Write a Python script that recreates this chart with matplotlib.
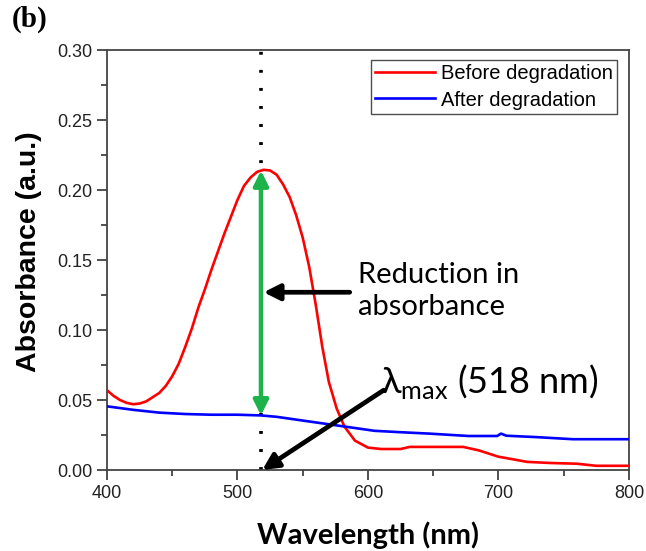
import numpy as np
import matplotlib
matplotlib.use("Agg")
from matplotlib import pyplot as plt

plt.rcParams['mathtext.fontset'] = 'custom'
plt.rcParams['mathtext.rm'] = 'Lato'

# spectra (nm, a.u.)
wl_before = [400, 405, 410, 415, 420, 425, 430, 435, 440, 445, 450, 455, 460, 465, 470, 475,
             480, 485, 490, 495, 500, 505, 510, 515, 520, 525, 530, 535, 540, 545, 550, 555,
             560, 565, 570, 576, 582, 590, 600, 610, 625, 632, 673, 685, 700, 712, 722, 740,
             760, 775, 800]
abs_before = [0.057, 0.053, 0.050, 0.048, 0.047, 0.0475, 0.049, 0.052, 0.055, 0.060, 0.067,
              0.076, 0.088, 0.101, 0.116, 0.129, 0.143, 0.156, 0.169, 0.181, 0.193, 0.203,
              0.209, 0.213, 0.2145, 0.214, 0.211, 0.204, 0.195, 0.182, 0.166, 0.145, 0.118,
              0.088, 0.063, 0.044, 0.031, 0.021, 0.016, 0.015, 0.015, 0.0165, 0.0165, 0.014,
              0.0095, 0.0075, 0.0058, 0.005, 0.0045, 0.003, 0.003]

wl_after = [400, 420, 440, 460, 480, 500, 518, 530, 545, 560, 575, 590, 605, 625, 647,
            677, 699, 702, 706, 729, 757, 800]
abs_after = [0.0455, 0.043, 0.041, 0.040, 0.0395, 0.0395, 0.039, 0.038, 0.036, 0.034,
             0.032, 0.030, 0.028, 0.027, 0.026, 0.0243, 0.0243, 0.026, 0.0245, 0.0235,
             0.022, 0.022]

lam_max = 518
peak_abs = 0.214
after_abs = 0.039

fig = plt.figure(figsize=(6.46, 5.51), dpi=100)
ax = fig.add_axes([0.1656, 0.147, 0.808, 0.762])

ax.plot(wl_before, abs_before, color='#ff0000', linewidth=1.9, label='Before degradation', zorder=3)
ax.plot(wl_after, abs_after, color='#0000ff', linewidth=1.9, label='After degradation', zorder=3)

# dotted line at lambda max
ax.plot([lam_max, lam_max], [0, 0.30], color='black', linewidth=2.6,
        linestyle=(0, (0.8, 4.2)), zorder=2, clip_on=False)

# green double arrow
ax.annotate('', xy=(lam_max, peak_abs), xytext=(lam_max, after_abs),
            arrowprops=dict(arrowstyle='<|-|>', color='#1db34a', lw=3.2,
                            mutation_scale=22, shrinkA=0, shrinkB=0), zorder=4)

# reduction arrow + text
ax.annotate('', xy=(520, 0.127), xytext=(586, 0.127),
            arrowprops=dict(arrowstyle='-|>', color='black', lw=3.4,
                            mutation_scale=24, shrinkA=0, shrinkB=0), zorder=5)
ax.text(592, 0.128, 'Reduction in\nabsorbance', fontsize=21, family=['Lato', 'DejaVu Sans'],
        va='center', ha='left', linespacing=1.3)

# lambda max arrow + text
ax.annotate('', xy=(519, 0.0), xytext=(612, 0.057),
            arrowprops=dict(arrowstyle='-|>', color='black', lw=3.4,
                            mutation_scale=24, shrinkA=0, shrinkB=0), zorder=5)
ax.text(610, 0.063, 'λ$_\\mathregular{max}$ (518 nm)', fontsize=26,
        family=['Lato', 'DejaVu Sans'], va='center', ha='left')

ax.set_xlim(400, 800)
ax.set_ylim(0, 0.30)
ax.set_xticks([400, 500, 600, 700, 800])
ax.set_xticks([450, 550, 650, 750], minor=True)
ax.set_yticks(np.arange(0, 0.31, 0.05))
ax.set_yticks(np.arange(0.025, 0.3, 0.05), minor=True)
ax.set_yticklabels(['0.00', '0.05', '0.10', '0.15', '0.20', '0.25', '0.30'])
ax.tick_params(which='major', direction='out', length=7, width=1.2, color='#333333',
               labelsize=13, labelcolor='#222222')
ax.tick_params(which='minor', direction='out', length=4, width=1.2, color='#333333')
for lab in ax.get_xticklabels() + ax.get_yticklabels():
    lab.set_family('Liberation Sans')
for s in ax.spines.values():
    s.set_color('#444444')
    s.set_linewidth(1.3)

ax.set_ylabel('Absorbance (a.u.)', fontsize=20.5, fontweight='bold', family='Liberation Sans')
ax.yaxis.set_label_coords(-0.125, 0.52)
ax.set_xlabel('Wavelength (nm)', fontsize=21, fontweight='bold', family=['Lato', 'DejaVu Sans'],
              labelpad=14)

leg = ax.legend(loc='upper right', bbox_to_anchor=(0.985, 0.985),
                prop={'family': 'Liberation Sans', 'size': 14.5}, frameon=True, fancybox=False,
                handlelength=3.0, handletextpad=0.3, borderpad=0.2, labelspacing=0.35,
                borderaxespad=0.2)
leg.get_frame().set_edgecolor('#222222')
leg.get_frame().set_linewidth(1.0)

fig.text(0.018, 0.965, '(b)', fontsize=21, fontweight='bold', family='Liberation Serif',
         va='center', ha='left')

fig.savefig('out.png', dpi=100)
